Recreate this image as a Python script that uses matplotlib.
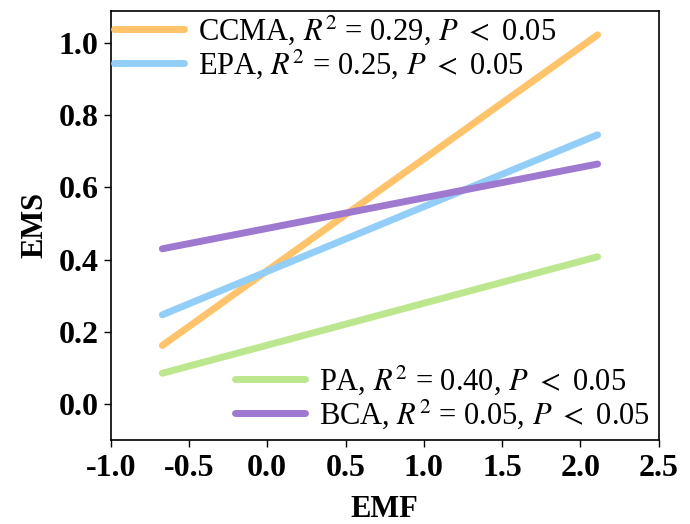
import matplotlib
matplotlib.use("Agg")
import matplotlib.pyplot as plt

# fitted regression lines (endpoints)
emf = [-0.67, 2.11]
ccma = [0.162, 1.023]
epa = [0.247, 0.746]
pa = [0.085, 0.408]
bca = [0.430, 0.665]

labels = {
    "CCMA": "CCMA, $R^2$ = 0.29, $P$ $<$ 0.05",
    "EPA": "EPA, $R^2$ = 0.25, $P$ $<$ 0.05",
    "PA": "PA, $R^2$ = 0.40, $P$ $<$ 0.05",
    "BCA": "BCA, $R^2$ = 0.05, $P$ $<$ 0.05",
}
colors = {"CCMA": "#FFC36B", "EPA": "#92CEF8", "PA": "#BDE78F", "BCA": "#9F78D0"}

plt.rcParams["font.family"] = ["Liberation Serif", "DejaVu Serif"]
plt.rcParams["mathtext.fontset"] = "stix"
plt.rcParams["axes.unicode_minus"] = False

fig = plt.figure(figsize=(6.9, 5.24), dpi=100)
ax = fig.add_axes([0.1604, 0.1603, 0.7942, 0.8193])

lw = 5
l_ccma, = ax.plot(emf, ccma, color=colors["CCMA"], lw=lw, solid_capstyle="round", label=labels["CCMA"])
l_epa, = ax.plot(emf, epa, color=colors["EPA"], lw=lw, solid_capstyle="round", label=labels["EPA"])
l_pa, = ax.plot(emf, pa, color=colors["PA"], lw=lw, solid_capstyle="round", label=labels["PA"])
l_bca, = ax.plot(emf, bca, color=colors["BCA"], lw=lw, solid_capstyle="round", label=labels["BCA"])

ax.set_xlim(-1.0, 2.5)
ax.set_ylim(-0.1, 1.09)
ax.set_xticks([-1.0, -0.5, 0.0, 0.5, 1.0, 1.5, 2.0, 2.5])
ax.set_yticks([0.0, 0.2, 0.4, 0.6, 0.8, 1.0])
ax.tick_params(labelsize=23, length=5, width=1)
ax.tick_params(axis="x", pad=5)
for t in ax.get_xticklabels() + ax.get_yticklabels():
    t.set_fontweight("bold")
for s in ax.spines.values():
    s.set_linewidth(1.2)

ax.set_xlabel("EMF", fontsize=22, fontweight="bold", labelpad=9)
ax.set_ylabel("EMS", fontsize=22, fontweight="bold", labelpad=7)

leg_kw = dict(frameon=False, fontsize=22, handlelength=2.3, handletextpad=0.45,
              labelspacing=0.0, borderpad=0.0)
leg1 = ax.legend(handles=[l_ccma, l_epa], loc="upper left",
                 bbox_to_anchor=(0.0, 1.0), borderaxespad=0.1, **leg_kw)
ax.add_artist(leg1)
ax.legend(handles=[l_pa, l_bca], loc="lower right",
          bbox_to_anchor=(1.0, 0.0), borderaxespad=0.3, **leg_kw)

fig.savefig("out.png", dpi=100)
